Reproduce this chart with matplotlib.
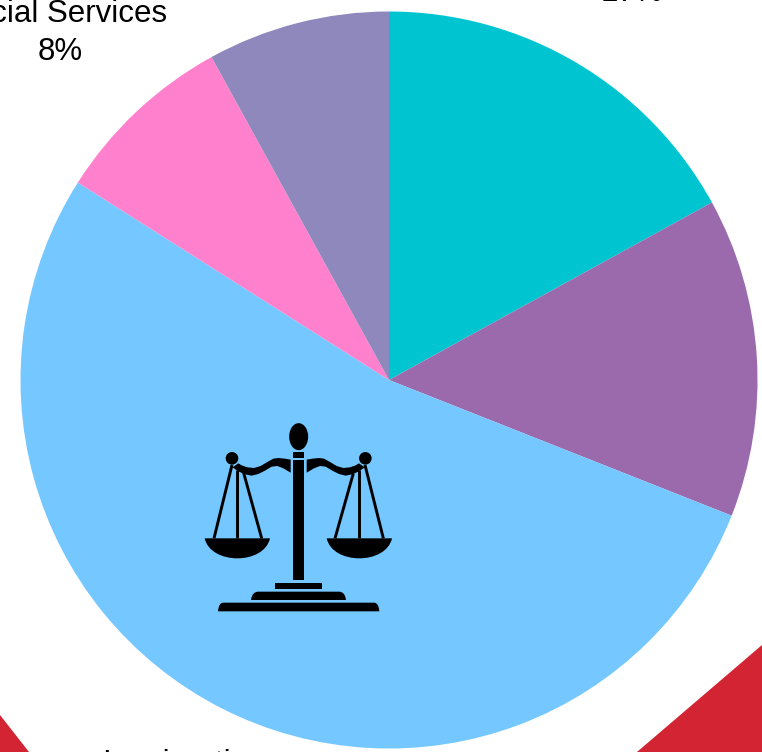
import matplotlib
matplotlib.use("Agg")
import matplotlib.pyplot as plt
from matplotlib.patches import Ellipse, Rectangle, Circle, PathPatch, Polygon
from matplotlib.path import Path

plt.rcParams['font.family'] = ['Liberation Sans', 'DejaVu Sans']

categories = ["Other", "Other 2", "Immigration", "Social Services", "Other 3"]
shares = [17, 14, 53, 8, 8]
colors = ["#00C5D1", "#9A6AAC", "#75C7FF", "#FF80CC", "#8F88BD"]

W, H = 762, 752
CX, CY, R = 389, 380, 368.5
fig = plt.figure(figsize=(W / 100, H / 100), dpi=100)

ax = fig.add_axes([0, 0, 1, 1])
ax.pie(shares, colors=colors, startangle=90, counterclock=False, radius=1,
       wedgeprops=dict(edgecolor="none", linewidth=0))
ax.set_aspect("auto")
ax.set_xlim(-CX / R, (W - CX) / R)
ax.set_ylim((CY - H) / R, CY / R)
ax.axis("off")

ov = fig.add_axes([0, 0, 1, 1], zorder=5)
ov.set_xlim(0, W)
ov.set_ylim(H, 0)
ov.axis("off")
ov.patch.set_alpha(0)

RED = "#D22433"
ov.add_patch(Polygon([(762, 645), (762, 752), (637, 752)], fc=RED, ec="none"))
ov.add_patch(Polygon([(0, 715), (29, 752), (0, 752)], fc=RED, ec="none"))

FS = 22.5
ov.text(60.5, 14, categories[3], fontsize=FS, ha="center", va="center", color="black", clip_on=False)
ov.text(60.5, 52, f"{shares[3]}%", fontsize=FS, ha="center", va="center", color="black")
ov.text(632, 1, f"{shares[0]}%", fontsize=FS, ha="center", va="baseline", color="black")
ov.text(184, 772, categories[2], fontsize=FS, ha="center", va="baseline", color="black")


# scales icon, traced in zoom-crop units
def z(x, y):
    return (190 + x / 3, 410 + y / 3)


def path(verts, codes):
    ov.add_patch(PathPatch(Path([z(*v) for v in verts], codes), fc="black", ec="none"))


def rect(x0, y0, x1, y1):
    a, b = z(x0, y0), z(x1, y1)
    ov.add_patch(Rectangle(a, b[0] - a[0], b[1] - a[1], fc="black", ec="none"))


M, L, C3, C4, CL = Path.MOVETO, Path.LINETO, Path.CURVE3, Path.CURVE4, Path.CLOSEPOLY

ov.add_patch(Ellipse(z(326, 80), 19, 27, fc="black", ec="none"))
rect(308, 125, 343, 144)
rect(308, 150, 343, 510)
rect(255, 518, 397, 536)

path([(183, 570), (186, 545), (205, 545), (447, 545), (465, 545), (468, 570), (183, 570), (183, 570)],
     [M, C3, C3, L, C3, C3, L, CL])
path([(84, 604), (86, 578), (100, 578), (552, 578), (566, 578), (568, 604), (84, 604), (84, 604)],
     [M, C3, C3, L, C3, C3, L, CL])

arm = [(302, 149), (285, 146), (265, 144), (250, 146), (232, 156), (212, 168), (192, 174),
       (172, 172), (155, 166), (145, 160), (128, 172), (145, 184), (165, 193), (185, 197),
       (205, 192), (225, 182), (245, 170), (262, 168), (280, 175), (302, 188)]
for mirror in (False, True):
    ov.add_patch(Polygon([z(652 - x if mirror else x, y) for x, y in arm], fc="black", ec="none"))

for cx in (126, 526):
    ov.add_patch(Circle(z(cx, 145), 6.3, fc="black", ec="none"))

cords = [((126, 165), (72, 385)), ((142, 180), (142, 385)), ((160, 185), (215, 385)),
         ((490, 190), (435, 385)), ((508, 180), (508, 385)), ((525, 165), (580, 385))]
for a, b in cords:
    p, q = z(*a), z(*b)
    ov.plot([p[0], q[0]], [p[1], q[1]], color="black", lw=2.1, solid_capstyle="butt")

for cx in (142, 508):
    path([(cx - 98, 385), (cx - 80, 465), (cx + 80, 465), (cx + 98, 385), (cx - 98, 385)],
         [M, C4, C4, C4, CL])

fig.savefig("out.png", dpi=100)
